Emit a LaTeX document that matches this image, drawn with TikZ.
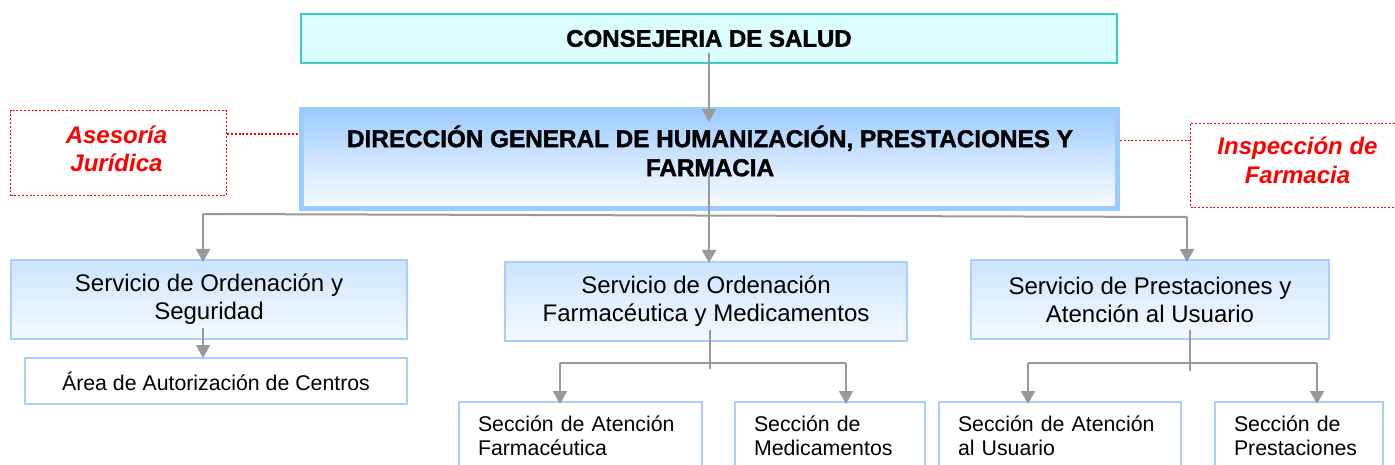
\documentclass[tikz,border=0pt]{standalone}
\usepackage{fontspec}
\setmainfont{Liberation Sans}
\newfontfamily\heavyfont{Liberation Sans}[BoldFeatures={FakeBold=1.6}]
\usetikzlibrary{arrows.meta,calc}
\definecolor{cyanfill}{HTML}{DBFEFF}
\definecolor{cyanline}{HTML}{3CCACA}
\definecolor{dirblue}{HTML}{9CCBFF}
\definecolor{dirmid}{HTML}{CFE5FF}
\definecolor{dirbot}{HTML}{F8FBFF}
\definecolor{boxline}{HTML}{A6CFFF}
\definecolor{servtop}{HTML}{CCE4FF}
\definecolor{servbot}{HTML}{F6FAFF}
\definecolor{conncol}{HTML}{999999}
\definecolor{redtxt}{HTML}{FF0000}
\begin{document}
\begin{tikzpicture}[x=1pt,y=-1pt,
  conn/.style={draw=conncol,line width=2pt},
  arr/.style={conn,-{Triangle[length=13pt,width=14pt]}},
  consbox/.style={draw=cyanline,fill=cyanfill,line width=2pt,inner sep=0pt,
    minimum width=816pt,minimum height=49pt,
    font=\fontsize{24}{29}\selectfont\heavyfont\bfseries},
  dirbox/.style={draw=dirblue,line width=5pt,inner sep=0pt,
    top color=dirblue,bottom color=dirbot,middle color=dirmid,
    minimum width=816pt,minimum height=99pt},
  dirtext/.style={align=center,inner sep=0pt,
    font=\fontsize{24.3}{29}\selectfont\heavyfont\bfseries},
  redbox/.style={draw=redtxt,line width=1.3pt,dash pattern=on 2pt off 1.8pt,
    inner sep=0pt},
  redtext/.style={inner sep=0pt,align=center,text=redtxt,
    font=\fontsize{24}{28.5}\selectfont\bfseries\itshape},
  redline/.style={draw=redtxt,line width=1.5pt,dash pattern=on 2pt off 1.8pt},
  servbox/.style={draw=boxline,line width=2pt,inner sep=0pt,align=center,
    top color=servtop,bottom color=servbot,
    minimum height=79pt,font=\fontsize{24}{28}\selectfont},
  areabox/.style={draw=boxline,line width=2pt,fill=white,inner sep=0pt,
    minimum height=46pt,font=\fontsize{21.3}{24}\selectfont},
  secbox/.style={draw=boxline,line width=2pt,fill=white,inner xsep=19pt,inner ysep=0pt,
    anchor=north west,align=left,minimum height=68pt,
    font=\fontsize{21.3}{24}\selectfont}]
\useasboundingbox (0,0) rectangle (1395,465);
\clip (0,0) rectangle (1395,465);

% top boxes
\node[consbox] (cons) at (709,38.5) {CONSEJERIA DE SALUD};
\node[dirbox] (dir) at (709.5,159) {};
\node[dirtext] (dirt) at (710,151) {DIRECCIÓN GENERAL DE HUMANIZACIÓN, PRESTACIONES Y\\FARMACIA};

% side boxes
\node[redbox,minimum width=216pt,minimum height=85pt] (ases) at (118.5,153.3) {};
\node[redtext] (asest) at (116.5,149) {Asesoría\\Jurídica};
\node[redbox,minimum width=214pt,minimum height=84pt] (insp) at (1297.5,165.2) {};
\node[redtext] (inspt) at (1297.5,160.5) {Inspección de\\Farmacia};

% services
\node[servbox,minimum width=396pt] (s1) at (209,299.5) {Servicio de Ordenación y\\Seguridad};
\node[servbox,minimum width=402pt] (s2) at (706,301.5) {Servicio de Ordenación\\Farmacéutica y Medicamentos};
\node[servbox,minimum width=358pt] (s3) at (1150,299.5) {Servicio de Prestaciones y\\Atención al Usuario};

\node[areabox,minimum width=382pt] (area) at (216,381) {Área de Autorización de Centros};

% sections
\node[secbox,text width=205pt] (sec1) at (458,401) {Sección de Atención\\Farmacéutica};
\node[secbox,text width=152pt] (sec2) at (734,401) {Sección de\\Medicamentos};
\node[secbox,text width=204pt] (sec3) at (938,401) {Sección de Atención\\al Usuario};
\node[secbox,text width=130pt] (sec4) at (1214,401) {Sección de\\Prestaciones};

% connectors: top
\coordinate (cx) at (709,0);
\draw[arr] ([yshift=11pt]cons.south -| cx) -- ([yshift=-15pt]dir.north -| cx);
\draw[redline] (ases.east |- 0,134) -- (dir.west |- 0,134);
\draw[redline] (dir.east |- 0,140.5) -- (insp.west |- 0,140.5);

\coordinate (jL) at (203,214);
\coordinate (jR) at (1187,217);
\draw[conn] (jL) -- (jR);
\draw[arr] (jL) -- ([yshift=-3pt]jL |- s1.north);
\draw[arr] ([yshift=-21pt]dirt.center -| cx) -- ([yshift=-2pt]cx |- s2.north);
\draw[arr] (jR) -- ([yshift=-3pt]jR |- s3.north);

% s1 -> area
\coordinate (ax) at (203,0);
\draw[arr] ([yshift=12pt]s1.south -| ax) -- ([yshift=-1pt]area.north -| ax);

% s2 -> sections
\coordinate (b2) at (710,369);
\coordinate (h2L) at (560,363);
\coordinate (h2R) at (846,363);
\draw[conn] ([yshift=12pt]s2.south -| b2) -- (b2);
\draw[conn] (h2L) -- (h2R);
\draw[arr] (h2L) -- ([yshift=-3pt]h2L |- sec1.north);
\draw[arr] (h2R) -- ([yshift=-3pt]h2R |- sec2.north);

% s3 -> sections
\coordinate (b3) at (1190,371);
\coordinate (h3L) at (1028,363);
\coordinate (h3R) at (1317,363);
\draw[conn] ([yshift=10pt]s3.south -| b3) -- (b3);
\draw[conn] (h3L) -- (h3R);
\draw[arr] (h3L) -- ([yshift=-3pt]h3L |- sec3.north);
\draw[arr] (h3R) -- ([yshift=-3pt]h3R |- sec4.north);
\end{tikzpicture}
\end{document}
